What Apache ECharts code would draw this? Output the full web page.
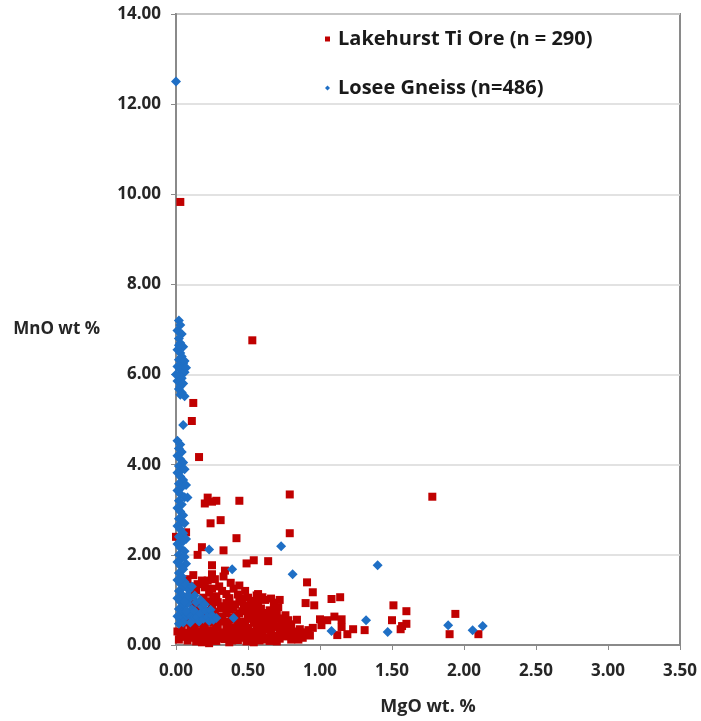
<!DOCTYPE html>
<html>
<head>
<meta charset="utf-8">
<script src="https://cdn.jsdelivr.net/npm/echarts@6/dist/echarts.min.js"></script>
<style>
html, body { margin: 0; padding: 0; background: #fff; }
#main { width: 701px; height: 721px; }
</style>
</head>
<body>
<div id="main"></div>
<script>
// 坐标轴刻度
var xTicks = [0, 0.5, 1, 1.5, 2, 2.5, 3, 3.5];
var yTicks = [0, 2, 4, 6, 8, 10, 12, 14];

// Lakehurst Ti Ore: 离散点
var lakehurstOutliers = [
	[0.03, 9.83], [0.53, 6.76], [0.12, 5.37], [0.11, 4.97], [0.16, 4.17], [0.79, 3.34], [1.78, 3.29],
	[0.22, 3.27], [0.20, 3.14], [0.25, 3.18], [0.28, 3.20], [0.44, 3.20], [0.24, 2.70], [0.31, 2.77],
	[0.79, 2.48], [0.42, 2.37], [0.00, 2.40], [0.07, 2.50], [0.18, 2.17], [0.33, 2.10], [0.15, 2.00],
	[0.49, 1.81], [0.54, 1.88], [0.64, 1.86], [0.25, 1.77], [0.25, 1.57], [0.33, 1.52], [0.12, 1.55],
	[0.18, 1.43], [0.44, 1.32], [0.91, 1.39], [0.95, 1.17], [1.08, 1.02], [1.14, 1.06], [0.90, 0.93],
	[0.96, 0.88], [0.71, 0.84], [1.51, 0.88], [1.60, 0.75], [1.50, 0.55], [1.60, 0.47], [1.56, 0.35],
	[1.00, 0.57], [1.05, 0.55], [1.10, 0.63], [1.15, 0.57], [1.01, 0.44], [1.15, 0.40], [1.23, 0.35],
	[1.19, 0.24], [1.12, 0.22], [1.31, 0.33], [1.57, 0.42], [1.94, 0.69], [1.90, 0.24], [2.10, 0.24]
];
// Lakehurst Ti Ore: 密集区
var lakehurstCluster = [
	[0.02, 0.12], [0.05, 0.18], [0.08, 0.10], [0.11, 0.16], [0.14, 0.08], [0.17, 0.20], [0.20, 0.12],
	[0.23, 0.04], [0.25, 0.17], [0.28, 0.09], [0.31, 0.21], [0.34, 0.13], [0.37, 0.06], [0.40, 0.18],
	[0.43, 0.11], [0.46, 0.22], [0.49, 0.08], [0.52, 0.15], [0.55, 0.20], [0.58, 0.10], [0.62, 0.17],
	[0.65, 0.09], [0.68, 0.21], [0.72, 0.14], [0.76, 0.19], [0.80, 0.12], [0.84, 0.20], [0.88, 0.16],
	[0.93, 0.21], [0.06, 0.22], [0.18, 0.06], [0.30, 0.14], [0.39, 0.10], [0.45, 0.16], [0.54, 0.06],
	[0.60, 0.22], [0.70, 0.08],
	[0.01, 0.30], [0.04, 0.38], [0.07, 0.27], [0.10, 0.35], [0.13, 0.41], [0.16, 0.29], [0.19, 0.37],
	[0.22, 0.26], [0.26, 0.33], [0.29, 0.40], [0.32, 0.28], [0.35, 0.36], [0.38, 0.25], [0.41, 0.39],
	[0.44, 0.31], [0.47, 0.27], [0.50, 0.38], [0.53, 0.30], [0.56, 0.41], [0.59, 0.26], [0.62, 0.34],
	[0.66, 0.29], [0.69, 0.40], [0.72, 0.32], [0.75, 0.26], [0.78, 0.37], [0.82, 0.30], [0.86, 0.35],
	[0.90, 0.28], [0.95, 0.38],
	[0.03, 0.24], [0.09, 0.20], [0.12, 0.28], [0.15, 0.14], [0.21, 0.32], [0.24, 0.22], [0.27, 0.29],
	[0.33, 0.22], [0.36, 0.31], [0.40, 0.27], [0.42, 0.34], [0.48, 0.33], [0.51, 0.24], [0.57, 0.33],
	[0.61, 0.12], [0.64, 0.40], [0.67, 0.16], [0.73, 0.22], [0.77, 0.30], [0.81, 0.24], [0.85, 0.12],
	[0.87, 0.27], [0.92, 0.33],
	[0.09, 0.50], [0.13, 0.58], [0.17, 0.47], [0.21, 0.55], [0.25, 0.61], [0.28, 0.48], [0.32, 0.56],
	[0.36, 0.45], [0.39, 0.60], [0.43, 0.51], [0.46, 0.46], [0.50, 0.58], [0.54, 0.49], [0.57, 0.62],
	[0.60, 0.45], [0.64, 0.54], [0.68, 0.47], [0.71, 0.59], [0.75, 0.50], [0.80, 0.46], [0.84, 0.56],
	[0.20, 0.45], [0.24, 0.50], [0.30, 0.63], [0.34, 0.52], [0.41, 0.56], [0.48, 0.52], [0.52, 0.63],
	[0.56, 0.54], [0.62, 0.58], [0.66, 0.62], [0.73, 0.45], [0.78, 0.55],
	[0.11, 0.72], [0.15, 0.80], [0.19, 0.67], [0.23, 0.76], [0.27, 0.69], [0.31, 0.81], [0.35, 0.70],
	[0.38, 0.78], [0.42, 0.66], [0.46, 0.75], [0.50, 0.68], [0.53, 0.80], [0.57, 0.72], [0.61, 0.66],
	[0.65, 0.77], [0.70, 0.70], [0.76, 0.66], [0.26, 0.74], [0.40, 0.83], [0.44, 0.70], [0.48, 0.81],
	[0.55, 0.76], [0.59, 0.81], [0.63, 0.71], [0.68, 0.82],
	[0.12, 0.92], [0.16, 0.86], [0.21, 0.97], [0.25, 0.88], [0.29, 0.95], [0.33, 0.86], [0.37, 0.99],
	[0.41, 0.90], [0.47, 0.87], [0.52, 0.96], [0.57, 0.89], [0.62, 1.00], [0.35, 0.93], [0.44, 0.96],
	[0.55, 0.98], [0.72, 1.00], [0.68, 0.94],
	[0.10, 1.10], [0.14, 1.22], [0.19, 1.05], [0.23, 1.16], [0.28, 1.08], [0.32, 1.20], [0.37, 1.04],
	[0.43, 1.12], [0.50, 1.05], [0.56, 1.10], [0.66, 1.03], [0.26, 1.02], [0.35, 1.13], [0.40, 1.25],
	[0.46, 1.03], [0.20, 1.28], [0.25, 1.25], [0.12, 1.30], [0.48, 1.20], [0.60, 1.06], [0.57, 1.13],
	[0.08, 1.46], [0.15, 1.35], [0.22, 1.43], [0.27, 1.46], [0.34, 1.65], [0.30, 1.30], [0.38, 1.38]
];

// Losee Gneiss: 离散点
var loseeOutliers = [
	[0.00, 12.50], [0.05, 4.88], [0.08, 3.27], [0.05, 2.30], [0.23, 2.12], [0.73, 2.19], [0.39, 1.68],
	[0.81, 1.57], [1.40, 1.77], [0.40, 0.60], [1.08, 0.31], [1.32, 0.55], [1.47, 0.29], [1.89, 0.44],
	[2.06, 0.33], [2.13, 0.42]
];
// Losee Gneiss: 上段竖列 (5.5 - 7.2)
var loseeUpper = [
	[0.02, 7.20], [0.03, 7.10], [0.01, 6.98], [0.04, 6.90], [0.02, 6.80], [0.03, 6.70], [0.05, 6.62],
	[0.01, 6.55], [0.03, 6.48], [0.04, 6.40], [0.02, 6.33], [0.05, 6.25], [0.01, 6.18], [0.03, 6.12],
	[0.06, 6.05], [0.02, 5.98], [0.04, 5.92], [0.01, 5.86], [0.05, 5.80], [0.03, 5.74], [0.02, 5.68],
	[0.04, 5.60], [0.06, 5.52], [0.02, 6.65], [0.06, 6.30], [0.00, 6.00], [0.07, 6.15], [0.03, 5.55]
];
// Losee Gneiss: 下段竖列 (0.45 - 4.5)
var loseeLower = [
	[0.01, 4.53], [0.03, 4.45], [0.02, 4.36], [0.04, 4.28], [0.01, 4.20], [0.03, 4.12], [0.05, 4.05],
	[0.02, 3.97], [0.04, 3.89], [0.01, 3.82], [0.03, 3.74], [0.05, 3.66], [0.02, 3.58], [0.04, 3.50],
	[0.01, 3.43], [0.03, 3.35], [0.06, 3.28], [0.02, 3.20], [0.04, 3.12], [0.01, 3.04], [0.03, 2.96],
	[0.05, 2.88], [0.02, 2.80], [0.04, 2.72], [0.01, 2.64], [0.03, 2.56], [0.05, 2.48], [0.02, 2.40],
	[0.04, 2.32], [0.01, 2.24], [0.03, 2.16], [0.06, 2.08], [0.02, 2.00], [0.04, 1.92], [0.01, 1.84],
	[0.07, 1.80], [0.03, 1.76], [0.05, 1.68], [0.02, 1.60], [0.04, 1.52], [0.01, 1.44], [0.06, 1.40],
	[0.03, 1.36], [0.05, 1.28], [0.02, 1.20], [0.04, 1.12], [0.01, 1.04], [0.07, 1.02], [0.03, 0.96],
	[0.05, 0.88], [0.02, 0.80], [0.04, 0.72], [0.01, 0.64], [0.06, 0.60], [0.03, 0.56], [0.05, 0.50],
	[0.02, 0.47], [0.06, 3.90], [0.07, 3.55], [0.06, 2.70], [0.07, 2.35], [0.06, 1.95]
];
// Losee Gneiss: 底部三角区
var loseeWedge = [
	[0.07, 1.35], [0.09, 1.22], [0.10, 1.05], [0.08, 0.92], [0.11, 0.80], [0.09, 0.68], [0.12, 0.58],
	[0.10, 0.50], [0.13, 1.10], [0.14, 0.95], [0.13, 0.75], [0.15, 0.62], [0.16, 0.52], [0.17, 1.00],
	[0.18, 0.85], [0.17, 0.70], [0.19, 0.58], [0.20, 0.90], [0.21, 0.75], [0.22, 0.62], [0.23, 0.53],
	[0.24, 0.78], [0.25, 0.66], [0.26, 0.56], [0.28, 0.60], [0.07, 0.75], [0.08, 1.10], [0.11, 1.30],
	[0.06, 0.95]
];

var lakehurstData = lakehurstCluster.concat(lakehurstOutliers);
var loseeData = loseeLower.concat(loseeWedge, loseeUpper, loseeOutliers);

var labelFont = {
	fontFamily : 'Open Sans',
	fontWeight : 'bold',
	fontSize : 17,
	color : '#262626'
};
var nameFont = {
	fontFamily : 'Open Sans',
	fontWeight : 'bold',
	fontSize : 18,
	color : '#262626'
};

var myChart = echarts.init(document.getElementById('main'));
var option = {
	animation : false,
	backgroundColor : '#fff',
	grid : {
		left : 176,
		right : 21,
		top : 14,
		bottom : 73,
		show : true,
		borderColor : '#8a8a8a',
		borderWidth : 2
	},
	legend : {
		orient : 'vertical',
		left : 320,
		top : 22,
		itemGap : 25,
		itemWidth : 5,
		itemHeight : 5,
		textStyle : {
			fontFamily : 'Open Sans',
			fontWeight : 'bold',
			fontSize : 20,
			lineHeight : 24,
			color : '#1a1a1a',
			padding : [0, 0, 0, 3]
		},
		data : [
			{ name : 'Lakehurst Ti Ore (n = 290)', icon : 'rect' },
			{ name : 'Losee Gneiss (n=486)', icon : 'diamond' }
		]
	},
	xAxis : {
		type : 'value',
		min : xTicks[0],
		max : xTicks[xTicks.length - 1],
		interval : 0.5,
		name : 'MgO wt. %',
		nameLocation : 'middle',
		nameGap : 53,
		nameTextStyle : nameFont,
		axisLine : { show : true, lineStyle : { color : '#8a8a8a', width : 2 } },
		axisTick : { show : true, length : 5, lineStyle : { color : '#8a8a8a' } },
		axisLabel : Object.assign({ margin : 18, formatter : function(v) { return v.toFixed(2); } }, labelFont),
		splitLine : { show : false }
	},
	yAxis : {
		type : 'value',
		min : yTicks[0],
		max : yTicks[yTicks.length - 1],
		interval : 2,
		name : 'MnO wt %',
		nameLocation : 'middle',
		nameRotate : 0,
		nameGap : 76,
		nameTextStyle : Object.assign({ padding : [10, 0, 0, 0] }, labelFont),
		axisLine : { show : true, lineStyle : { color : '#8a8a8a', width : 2 } },
		axisTick : { show : true, length : 5, lineStyle : { color : '#8a8a8a' } },
		axisLabel : Object.assign({ margin : 15, formatter : function(v) { return v.toFixed(2); } }, labelFont),
		splitLine : { show : true, lineStyle : { color : '#d9d9d9', width : 1.5 } }
	},
	series : [
		{
			name : 'Lakehurst Ti Ore (n = 290)',
			type : 'scatter',
			symbol : 'rect',
			symbolSize : 8,
			itemStyle : { color : '#c00000', opacity : 1 },
			data : lakehurstData
		},
		{
			name : 'Losee Gneiss (n=486)',
			type : 'scatter',
			symbol : 'diamond',
			symbolSize : 10,
			itemStyle : { color : '#1f6fc5', opacity : 1 },
			data : loseeData
		}
	]
};
myChart.setOption(option);
</script>
</body>
</html>
